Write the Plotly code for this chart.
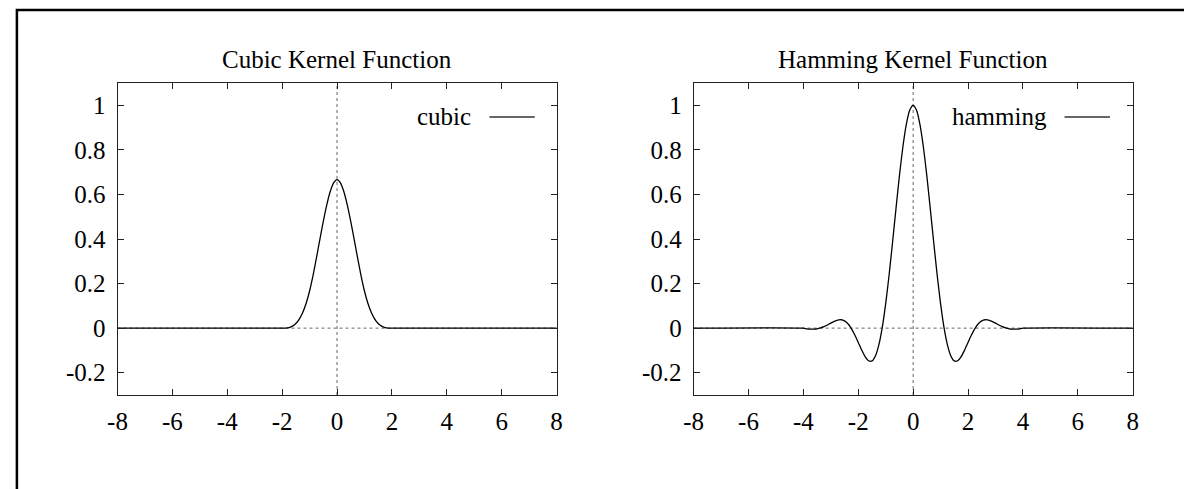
import plotly.graph_objects as go

# ---- data ----
cubic_x = [-8, -2, -1.875, -1.75, -1.625, -1.5, -1.375, -1.25, -1.125, -1, -0.875, -0.75,
           -0.625, -0.5, -0.375, -0.25, -0.125, 0, 0.125, 0.25, 0.375, 0.5, 0.625, 0.75,
           0.875, 1, 1.125, 1.25, 1.375, 1.5, 1.625, 1.75, 1.875, 2, 8]
cubic_y = [0, 0, 0.0003, 0.0026, 0.0088, 0.0208, 0.0407, 0.0703, 0.1117, 0.1667, 0.236, 0.3151,
           0.3981, 0.4792, 0.5524, 0.612, 0.652, 0.6667, 0.652, 0.612, 0.5524, 0.4792, 0.3981, 0.3151,
           0.236, 0.1667, 0.1117, 0.0703, 0.0407, 0.0208, 0.0088, 0.0026, 0.0003, 0, 0]

hamming_x = [-8, -4, -3.875, -3.75, -3.625, -3.5, -3.375, -3.25, -3.125, -3, -2.875, -2.75,
             -2.625, -2.5, -2.375, -2.25, -2.125, -2, -1.875, -1.75, -1.625, -1.5, -1.375, -1.25,
             -1.125, -1, -0.875, -0.75, -0.625, -0.5, -0.375, -0.25, -0.125, 0,
             0.125, 0.25, 0.375, 0.5, 0.625, 0.75, 0.875, 1, 1.125, 1.25, 1.375, 1.5,
             1.625, 1.75, 1.875, 2, 2.125, 2.25, 2.375, 2.5, 2.625, 2.75, 2.875, 3,
             3.125, 3.25, 3.375, 3.5, 3.625, 3.75, 3.875, 4, 8]
hamming_y = [0, 0, -0.003, -0.004, -0.004, -0.003, 0.001, 0.0065, 0.0141, 0.0228, 0.0307, 0.0364,
             0.0377, 0.0326, 0.0195, -0.002, -0.0308, -0.0643, -0.0985, -0.1279, -0.1464, -0.1472, -0.1246, -0.0749,
             0.0037, 0.1103, 0.2397, 0.3852, 0.5366, 0.683, 0.8118, 0.9133, 0.9779, 1.0,
             0.9779, 0.9133, 0.8118, 0.683, 0.5366, 0.3852, 0.2397, 0.1103, 0.0037, -0.0749, -0.1246, -0.1472,
             -0.1464, -0.1279, -0.0985, -0.0643, -0.0308, -0.002, 0.0195, 0.0326, 0.0377, 0.0364, 0.0307, 0.0228,
             0.0141, 0.0065, 0.001, -0.003, -0.004, -0.004, -0.003, 0, 0]

x_ticks = [-8, -6, -4, -2, 0, 2, 4, 6, 8]
x_tick_text = ["-8", "-6", "-4", "-2", "0", "2", "4", "6", "8"]
y_ticks = [-0.2, 0, 0.2, 0.4, 0.6, 0.8, 1]
y_tick_text = ["-0.2", "0", "0.2", "0.4", "0.6", "0.8", "1"]

titles = ["Cubic Kernel Function", "Hamming Kernel Function"]
legend_names = ["cubic", "hamming"]

# ---- layout geometry (pixels) ----
W, H = 1184, 489
FONT = "Liberation Serif, Times New Roman, serif"
FS = 25
panels = [(109, 554), (693, 1138)]
top_px, bot_px = 83, 395

def px_x(p):
    return p / W

def px_y(p):
    return 1 - p / H

fig = go.Figure()

fig.add_trace(go.Scatter(x=cubic_x, y=cubic_y, mode="lines", name=legend_names[0],
                         line=dict(color="black", width=1.3, shape="spline", smoothing=0.6),
                         xaxis="x", yaxis="y", showlegend=False))
fig.add_trace(go.Scatter(x=hamming_x, y=hamming_y, mode="lines", name=legend_names[1],
                         line=dict(color="black", width=1.3, shape="spline", smoothing=0.6),
                         xaxis="x2", yaxis="y2", showlegend=False))

axis_common = dict(showline=True, linecolor="#222", linewidth=1, mirror="allticks",
                   ticks="inside", ticklen=6, tickcolor="#222", tickwidth=1,
                   showgrid=False, zeroline=False,
                   tickfont=dict(family=FONT, size=FS, color="black"))

ydom = [px_y(bot_px), px_y(top_px)]
fig.update_layout(
    width=W, height=H,
    margin=dict(l=0, r=0, t=0, b=0),
    paper_bgcolor="white", plot_bgcolor="white",
    font=dict(family=FONT, size=FS, color="black"),
    xaxis=dict(domain=[px_x(panels[0][0]), px_x(panels[0][1])], range=[-8, 8],
               tickvals=x_ticks, ticktext=x_tick_text, anchor="y", ticklabelstandoff=4, **axis_common),
    yaxis=dict(domain=ydom, range=[-0.3, 1.1], tickvals=y_ticks, ticktext=y_tick_text,
               anchor="x", ticklabelstandoff=6, **axis_common),
    xaxis2=dict(domain=[px_x(panels[1][0]), px_x(panels[1][1])], range=[-8, 8],
                tickvals=x_ticks, ticktext=x_tick_text, anchor="y2", ticklabelstandoff=4, **axis_common),
    yaxis2=dict(domain=ydom, range=[-0.3, 1.1], tickvals=y_ticks, ticktext=y_tick_text,
                anchor="x2", ticklabelstandoff=6, **axis_common),
)

shapes = []
annotations = []
legend_text_end = [469, 1053]
legend_line = [(486, 532), (1069, 1115)]
legend_y = 117
for i, (xa, ya) in enumerate([("x", "y"), ("x2", "y2")]):
    # dotted zero axes
    shapes.append(dict(type="line", xref=xa, yref=ya + " domain", x0=0, x1=0, y0=0, y1=1,
                       line=dict(color="#666", width=1, dash="dot"), layer="below"))
    shapes.append(dict(type="line", xref=xa + " domain", yref=ya, x0=0, x1=1, y0=0, y1=0,
                       line=dict(color="#666", width=1, dash="dot"), layer="below"))
    # legend sample line
    shapes.append(dict(type="line", xref="paper", yref="paper",
                       x0=px_x(legend_line[i][0]), x1=px_x(legend_line[i][1]),
                       y0=px_y(legend_y), y1=px_y(legend_y),
                       line=dict(color="#333", width=1.3)))
    annotations.append(dict(text=legend_names[i], xref="paper", yref="paper",
                            x=px_x(legend_text_end[i]), y=px_y(legend_y),
                            xanchor="right", yanchor="middle", showarrow=False,
                            font=dict(family=FONT, size=FS, color="black")))
    # panel title
    annotations.append(dict(text=titles[i], xref="paper", yref="paper",
                            x=px_x((panels[i][0] + panels[i][1]) / 2), y=px_y(60),
                            xanchor="center", yanchor="middle", showarrow=False,
                            font=dict(family=FONT, size=FS, color="black")))

# outer frame (only left and top edges visible in the picture)
shapes.append(dict(type="rect", xref="paper", yref="paper",
                   x0=px_x(7), x1=1.05, y0=-0.05, y1=px_y(10),
                   line=dict(color="black", width=2.5)))

fig.update_layout(shapes=shapes, annotations=annotations)
fig.write_html("out.html")
